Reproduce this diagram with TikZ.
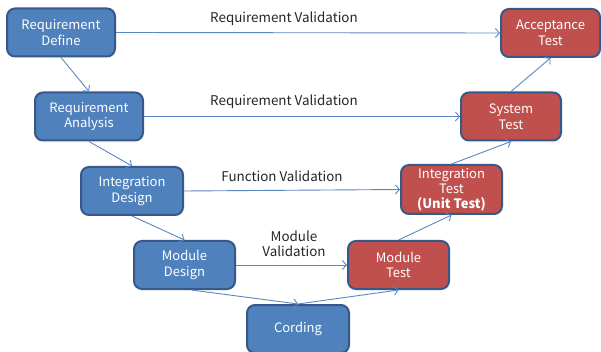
\documentclass[tikz,border=0pt]{standalone}
\usepackage{fontspec}
\setmainfont{Noto Sans CJK KR}
\usetikzlibrary{arrows.meta,calc}
\definecolor{bfill}{HTML}{4F81BD}
\definecolor{rfill}{HTML}{C0504D}
\definecolor{bord}{HTML}{37598A}
\definecolor{arr}{HTML}{5B87C4}
\definecolor{lab}{HTML}{262626}
\begin{document}
\begin{tikzpicture}[x=1pt,y=-1pt,
  box/.style={draw=bord, line width=2pt, rounded corners=8pt, minimum width=#1, minimum height=48pt,
    align=center, text=white, font=\fontsize{13}{15.5}\selectfont, inner sep=0pt},
  box/.default=101pt,
  bbox/.style={box=#1, fill=bfill},
  bbox/.default=101pt,
  rbox/.style={box=#1, fill=rfill},
  rbox/.default=101pt,
  conn/.style={draw=arr, line width=0.9pt, -{Straight Barb[length=4pt,width=9pt]}},
  lbl/.style={text=lab, font=\fontsize{13.4}{14.5}\selectfont, align=center, inner sep=0pt}]
\useasboundingbox[fill=white] (0,0) rectangle (601,352);
\node[bbox=108pt] (RD) at (61,32.5) {Requirement\\Define};
\node[bbox=108pt] (RA) at (89,116.5) {Requirement\\Analysis};
\node[bbox=102pt] (ID) at (132,191) {Integration\\Design};
\node[bbox] (MD) at (184.5,265) {Module\\Design};
\node[bbox=102pt, minimum height=48pt] (CO) at (298,329) {Cording};
\node[rbox=99pt] (AT) at (550.5,33) {Acceptance\\Test};
\node[rbox=100pt] (ST) at (511,116.5) {System\\Test};
\node[rbox, minimum height=49pt, font=\fontsize{13}{14.8}\selectfont] (IT) at (451.5,189.5) {Integration\\Test\\\textbf{(Unit Test)}};
\node[rbox] (MT) at (398.5,265) {Module\\Test};

\node[lbl] (L1) at (284,19) {Requirement Validation};
\node[lbl] (L2) at (284,102) {Requirement Validation};
\node[lbl] (L3) at (282,176) {Function Validation};
\node[lbl] (L4) at (294,244) {Module\\Validation};

\draw[conn] (RD.east) -- (AT.west);
\draw[conn] (RA.east) -- (ST.west);
\draw[conn] (ID.east) -- (IT.west);
\draw[conn] (MD.east) -- (MT.west);

\draw[conn] (RD.south) -- (RA.north);
\draw[conn] (RA.south) -- (ID.north);
\draw[conn] (ID.south) -- (MD.north);
\draw[conn] ($(MD.south)+(7,0)$) -- (CO.north);
\draw[conn] (CO.north) -- (MT.south);
\draw[conn] (MT.north) -- (IT.south);
\draw[conn] (IT.north) -- (ST.south);
\draw[conn] (ST.north) -- (AT.south);
\end{tikzpicture}
\end{document}
